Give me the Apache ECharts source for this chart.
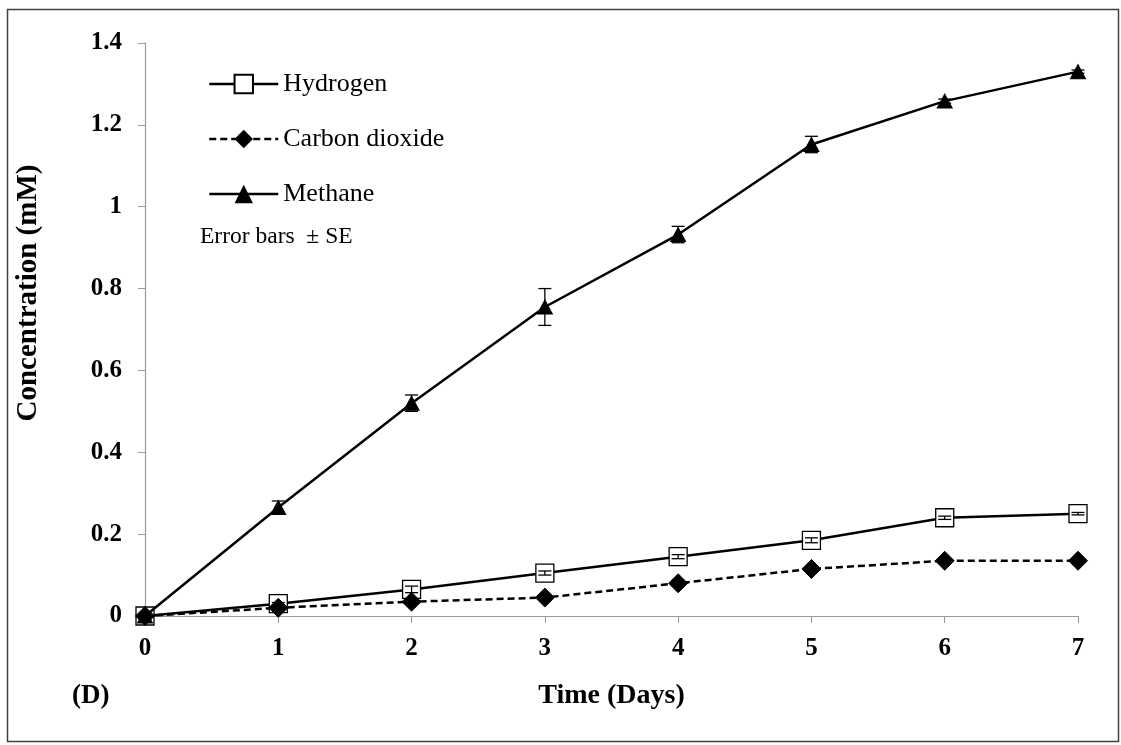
<!DOCTYPE html>
<html>
<head>
<meta charset="utf-8">
<script src="https://cdn.jsdelivr.net/npm/echarts@6/dist/echarts.min.js"></script>
<style>html,body{margin:0;padding:0;background:#fff}#c{width:1121px;height:745px}</style>
</head>
<body>
<div id="c"></div>
<script>
const days = [0, 1, 2, 3, 4, 5, 6, 7];
const hydrogen = [0, 0.03, 0.065, 0.105, 0.145, 0.185, 0.24, 0.25];
const hydrogenSE = [0, 0.003, 0.008, 0.005, 0.005, 0.006, 0.004, 0.003];
const co2 = [0, 0.02, 0.035, 0.045, 0.08, 0.115, 0.135, 0.135];
const co2SE = [0, 0, 0, 0, 0, 0, 0, 0];
const methane = [0, 0.265, 0.52, 0.755, 0.932, 1.152, 1.258, 1.33];
const methaneSE = [0, 0.016, 0.02, 0.045, 0.02, 0.02, 0.005, 0.004];
const yTicks = [0, 0.2, 0.4, 0.6, 0.8, 1, 1.2, 1.4];

const serif = 'Liberation Serif';
const pair = (v) => days.map((d, i) => [d, v[i]]);
const errData = (v, se) => days.map((d, i) => [d, v[i] - se[i], v[i] + se[i]]).filter(r => r[2] - r[1] > 0);

function errSeries(v, se) {
  return {
    type: 'custom',
    silent: true,
    z: 5,
    data: errData(v, se),
    renderItem: function (params, api) {
      const x = api.value(0);
      const lo = api.coord([x, api.value(1)]);
      const hi = api.coord([x, api.value(2)]);
      const w = 6.5;
      const st = { stroke: '#000', lineWidth: 1.3 };
      return {
        type: 'group',
        children: [
          { type: 'line', shape: { x1: lo[0], y1: lo[1], x2: hi[0], y2: hi[1] }, style: st },
          { type: 'line', shape: { x1: lo[0] - w, y1: lo[1], x2: lo[0] + w, y2: lo[1] }, style: st },
          { type: 'line', shape: { x1: hi[0] - w, y1: hi[1], x2: hi[0] + w, y2: hi[1] }, style: st }
        ]
      };
    }
  };
}

const chart = echarts.init(document.getElementById('c'));
chart.setOption({
  animation: false,
  backgroundColor: '#fff',
  grid: { left: 145, right: 43, top: 43, bottom: 129 },
  legend: {
    orient: 'vertical',
    left: 203,
    top: 66,
    itemWidth: 69,
    itemHeight: 23,
    itemGap: 29,
    lineStyle: { width: 2.5 },
    textStyle: { fontFamily: serif, fontSize: 26, color: '#000' },
    data: ['Hydrogen', 'Carbon dioxide', 'Methane']
  },
  xAxis: {
    type: 'value',
    min: 0, max: 7, interval: 1,
    axisLine: { lineStyle: { color: '#9a9a9a', width: 1.2 } },
    axisTick: { show: true, length: 7, lineStyle: { color: '#9a9a9a' } },
    splitLine: { show: false },
    axisLabel: { fontFamily: serif, fontWeight: 'bold', fontSize: 25, color: '#000', margin: 20 },
    name: 'Time (Days)',
    nameLocation: 'middle',
    nameGap: 66,
    nameTextStyle: { fontFamily: serif, fontWeight: 'bold', fontSize: 28, color: '#000' }
  },
  yAxis: {
    type: 'value',
    min: 0, max: 1.4, interval: 0.2,
    axisLine: { show: true, lineStyle: { color: '#9a9a9a', width: 1.2 } },
    axisTick: { show: true, length: 7, lineStyle: { color: '#9a9a9a' } },
    splitLine: { show: false },
    axisLabel: {
      fontFamily: serif, fontWeight: 'bold', fontSize: 25, color: '#000', margin: 23,
      formatter: (v) => { const t = yTicks.find(k => Math.abs(k - v) < 1e-9); return t === undefined ? '' : String(t); }
    }
  },
  series: [
    {
      name: 'Hydrogen', type: 'line', data: pair(hydrogen), z: 3,
      symbol: 'rect', symbolSize: 18,
      lineStyle: { color: '#000', width: 2.5 },
      itemStyle: { color: '#fff', borderColor: '#000', borderWidth: 1.3 }
    },
    {
      name: 'Carbon dioxide', type: 'line', data: pair(co2), z: 4,
      symbol: 'diamond', symbolSize: [19, 19],
      lineStyle: { color: '#000', width: 2.5, type: [7, 4] },
      itemStyle: { color: '#000', borderColor: '#000' }
    },
    {
      name: 'Methane', type: 'line', data: pair(methane), z: 4,
      symbol: 'triangle', symbolSize: [15, 14],
      lineStyle: { color: '#000', width: 2.5 },
      itemStyle: { color: '#000', borderColor: '#000' }
    },
    errSeries(hydrogen, hydrogenSE),
    errSeries(methane, methaneSE)
  ],
  graphic: [
    { type: 'rect', left: 5, top: 7, shape: { width: 1111, height: 732 }, style: { fill: 'none', stroke: '#404040', lineWidth: 1.5 }, silent: true },
    { type: 'text', x: 29, y: 293, rotation: Math.PI / 2, silent: true,
      style: { text: 'Concentration (mM)', font: 'bold 29px "Liberation Serif"', fill: '#000', align: 'center', verticalAlign: 'middle' } },
    { type: 'text', left: 200, top: 225, style: { text: 'Error bars  \u00B1 SE', font: '23.5px "Liberation Serif"', fill: '#000' } },
    { type: 'text', left: 72, top: 683, style: { text: '(D)', font: 'bold 27px "Liberation Serif"', fill: '#000' } }
  ]
});
</script>
</body>
</html>
